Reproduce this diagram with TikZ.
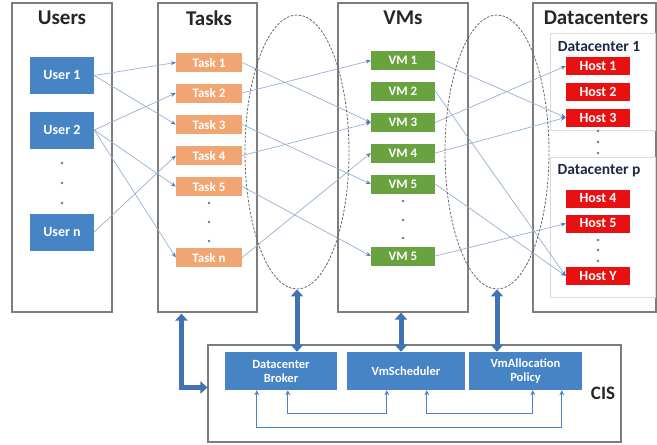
\documentclass[tikz,border=0pt]{standalone}
\usepackage{fontspec}
\setmainfont{Carlito}
\usetikzlibrary{arrows.meta,shapes.geometric,calc}
\definecolor{ublue}{RGB}{70,132,198}
\definecolor{torange}{RGB}{240,165,115}
\definecolor{vgreen}{RGB}{104,163,64}
\definecolor{hred}{RGB}{232,16,16}
\definecolor{pgray}{RGB}{125,125,125}
\definecolor{lgray}{RGB}{218,218,218}
\definecolor{conn}{RGB}{150,175,210}
\definecolor{tipc}{RGB}{80,120,175}
\definecolor{thickc}{RGB}{65,115,180}
\definecolor{navy}{RGB}{30,40,70}
\begin{document}
\begin{tikzpicture}[x=1pt,y=-1pt,
 panel/.style={draw=pgray, line width=1.1pt, minimum height=309pt, inner sep=0pt},
 subpanel/.style={draw=lgray, line width=0.6pt, inner sep=0pt, minimum width=105pt},
 ttl/.style={font=\fontsize{21}{23}\selectfont\bfseries, text=black!85},
 dctl/.style={font=\fontsize{15.5}{17}\selectfont\bfseries, text=navy},
 ubox/.style={fill=ublue, text=white, minimum width=64pt, minimum height=37pt, inner sep=0pt, font=\fontsize{14}{15}\selectfont\bfseries},
 tbox/.style={fill=torange, text=white, minimum width=66pt, minimum height=19pt, inner sep=0pt, font=\fontsize{13}{14}\selectfont\bfseries},
 vbox/.style={fill=vgreen, text=white, minimum width=64pt, minimum height=19pt, inner sep=0pt, font=\fontsize{13}{14}\selectfont\bfseries},
 hbox/.style={fill=hred, text=white, minimum width=64pt, minimum height=18pt, inner sep=0pt, font=\fontsize{14}{15}\selectfont\bfseries},
 cbox/.style={fill=ublue, text=white, minimum height=38pt, inner sep=0pt, align=center, font=\fontsize{12.5}{14}\selectfont\bfseries},
 dotm/.style={circle, fill=tipc!70!gray, inner sep=0pt, minimum size=2.6pt},
 lnk/.style={draw=conn, line width=0.7pt, -{Stealth[length=5pt,width=4pt,color=tipc]}},
 bigarrow/.style={draw=thickc, line width=5pt, {Triangle[length=7pt,width=12pt]}-{Triangle[length=7pt,width=12pt]}},
 fb/.style={draw=ublue, line width=0.9pt, {Stealth[length=5pt,width=5pt]}-{Stealth[length=5pt,width=5pt]}},
 cyc/.style={draw=gray!80!black, dash pattern=on 2.5pt off 1.5pt, line width=0.8pt, ellipse, inner sep=0pt, minimum width=104pt, minimum height=274pt}
]
\useasboundingbox (0,0) rectangle (657,445);

% panels
\node[panel, minimum width=100pt] (users) at (62,157.5) {};
\node[panel, minimum width=99pt] (tasks) at (207.5,157.5) {};
\node[panel, minimum width=130pt] (vms) at (403,157.5) {};
\node[panel, minimum width=123pt] (dcs) at (594.5,157.5) {};
\node[subpanel, minimum height=97pt] (dc1) at (602.5,81.5) {};
\node[subpanel, minimum height=140pt] (dcp) at (602.5,227) {};
\node[panel, minimum width=413pt, minimum height=97pt] (cis) at (414.5,393.5) {};

% titles
\node[ttl] (tu) at (62,18) {Users};
\node[ttl] (tt) at (209,18) {Tasks};
\node[ttl] (tv) at (403,18) {VMs};
\node[ttl] (td) at (596,18) {Datacenters};
\node[dctl] (td1) at (599,47) {Datacenter 1};
\node[dctl] (tdp) at (599,171) {Datacenter p};
\node[font=\fontsize{19}{21}\selectfont\bfseries, text=black!85] (tcis) at (603,393) {CIS};

% users
\node[ubox] (u1) at (62,75.5) {User 1};
\node[ubox] (u2) at (62,130) {User 2};
\node[ubox] (un) at (62,232) {User n};
\node[dotm] (ud1) at (62,163) {};
\node[dotm] (ud2) at (62,183) {};
\node[dotm] (ud3) at (62,203) {};

% tasks
\node[tbox] (t1) at (209,62.5) {Task 1};
\node[tbox] (t2) at (209,93) {Task 2};
\node[tbox] (t3) at (209,124.5) {Task 3};
\node[tbox] (t4) at (209,155.5) {Task 4};
\node[tbox] (t5) at (209,186.5) {Task 5};
\node[tbox] (tn) at (209,257.5) {Task n};
\node[dotm] (td1d) at (209,203) {};
\node[dotm] (td2d) at (209,222) {};
\node[dotm] (td3d) at (209,241) {};

% vms
\node[vbox] (v1) at (403,60.5) {VM 1};
\node[vbox] (v2) at (403,91) {VM 2};
\node[vbox] (v3) at (403,122.5) {VM 3};
\node[vbox] (v4) at (403,153) {VM 4};
\node[vbox] (v5) at (403,184) {VM 5};
\node[vbox] (vm) at (403,256) {VM 5};
\node[dotm] (vd1) at (403,201) {};
\node[dotm] (vd2) at (403,220) {};
\node[dotm] (vd3) at (403,238) {};

% hosts
\node[hbox] (h1) at (598,66) {Host 1};
\node[hbox] (h2) at (598,91.5) {Host 2};
\node[hbox] (h3) at (598,117.5) {Host 3};
\node[hbox] (h4) at (598,198.5) {Host 4};
\node[hbox] (h5) at (598,223.5) {Host 5};
\node[hbox] (hy) at (598,276) {Host Y};
\node[dotm] (hd1) at (598,131) {};
\node[dotm] (hd2) at (598,142) {};
\node[dotm] (hd3) at (598,153) {};
\node[dotm] (hd4) at (598,240) {};
\node[dotm] (hd5) at (598,250) {};
\node[dotm] (hd6) at (598,261) {};

% user -> task
\draw[lnk] (u1.east) -- (t1.west);
\draw[lnk] (u1.east) -- (t3.west);
\draw[lnk] (u2.east) -- (t2.west);
\draw[lnk] (u2.east) -- (t5.west);
\draw[lnk] (u2.east) -- (tn.west);
\draw[lnk] (un.east) -- (t4.west);

% task -> vm
\draw[lnk] (t1.east) -- (v3.west);
\draw[lnk] (t2.east) -- (v1.west);
\draw[lnk] (t3.east) -- (v5.west);
\draw[lnk] (t4.east) -- (v3.west);
\draw[lnk] (t5.east) -- (vm.west);
\draw[lnk] (tn.east) -- (v4.west);

% vm -> host
\draw[lnk] (v1.east) -- (h3.west);
\draw[lnk] (v2.east) -- (hy.west);
\draw[lnk] (v3.east) -- (h1.west);
\draw[lnk] (v4.east) -- (h3.west);
\draw[lnk] (v5.east) -- (hy.west);
\draw[lnk] (vm.east) -- (h5.west);

% dashed ellipses
\node[cyc] (e1) at (297,152) {};
\node[cyc] (e2) at (497,152) {};

% CIS boxes
\node[cbox, minimum width=112pt] (db) at (281,371) {Datacenter\\Broker};
\node[cbox, minimum width=118pt] (vs) at (406,371) {VmScheduler};
\node[cbox, minimum width=113pt] (vp) at (525.5,371) {VmAllocation\\Policy};

% thick arrows
\draw[bigarrow] (e1.south) -- (e1.south |- db.north);
\draw[bigarrow] ($(vms.south)+(-2,0)$) -- ($(vms.south |- vs.north)+(-2,0)$);
\draw[bigarrow] (e2.south) -- (e2.south |- vp.north);
\draw[bigarrow] ($(tasks.south west)+(24,1)$) |- ($(cis.west)+(0,-6)$);

% feedback arrows inside CIS
\draw[fb] ($(db.south west)+(32,0)$) -- ++(0,37) -| ($(vp.south west)+(93,0)$);
\draw[fb] ($(db.south west)+(63,0)$) -- ++(0,23) -| ($(vs.south west)+(40,0)$);
\draw[fb] ($(vs.south west)+(80,0)$) -- ++(0,23) -| ($(vp.south west)+(64,0)$);
\end{tikzpicture}
\end{document}
